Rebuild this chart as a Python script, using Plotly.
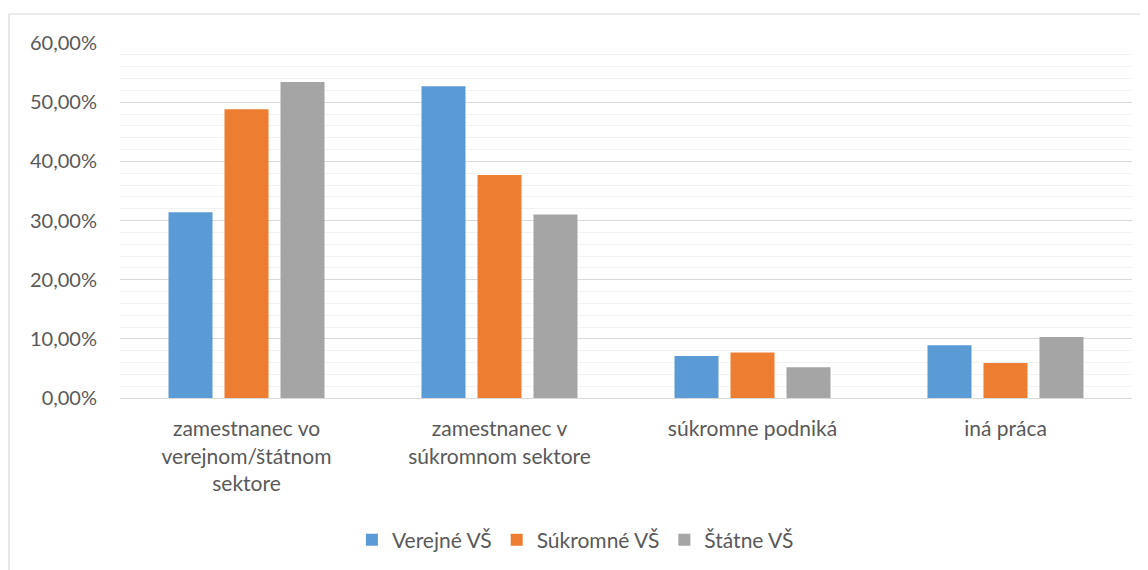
import plotly.graph_objects as go

# kategórie a hodnoty odčítané z grafu
kategorie = ["zamestnanec vo<br>verejnom/štátnom<br>sektore",
             "zamestnanec v<br>súkromnom sektore",
             "súkromne podniká",
             "iná práca"]
verejne = [0.314, 0.527, 0.071, 0.089]
sukromne = [0.488, 0.377, 0.077, 0.059]
statne = [0.534, 0.310, 0.052, 0.103]

serie = [("Verejné VŠ", verejne, "#5B9BD5"),
         ("Súkromné VŠ", sukromne, "#ED7D31"),
         ("Štátne VŠ", statne, "#A5A5A5")]

fig = go.Figure()
for nazov, hodnoty, farba in serie:
    fig.add_trace(go.Bar(x=kategorie, y=hodnoty, name=nazov, marker_color=farba,
                         marker_line_width=0))

# stránka má okraj 8 px, preto je graf o niečo menší
fig.update_layout(
    width=1140, height=562,
    margin=dict(l=112, r=16, t=35, b=172, autoexpand=False),
    plot_bgcolor="white", paper_bgcolor="white",
    separators=", ",
    font=dict(family="Lato", size=20, color="#595959"),
    barmode="group", bargap=0.336, bargroupgap=0.214,
    legend=dict(orientation="h", x=0.45, xanchor="center", y=-0.40, yanchor="middle",
                font=dict(size=21), itemwidth=30, traceorder="normal"),
    showlegend=True,
)
fig.update_yaxes(range=[0, 0.6], dtick=0.1, tickformat=".2%",
                 gridcolor="#D9D9D9", gridwidth=1.2, zeroline=False,
                 ticks="", ticklabelstandoff=22, automargin=False,
                 minor=dict(dtick=0.02, gridcolor="#F2F2F2", gridwidth=1.2, showgrid=True))
fig.update_xaxes(showline=True, linecolor="#D9D9D9", linewidth=1.2,
                 ticks="", ticklabelstandoff=12, automargin=False,
                 tickfont=dict(size=21))

fig.add_shape(type="rect", xref="paper", yref="paper",
              x0=-0.1097, x1=1.0148, y0=-0.5, y1=1.0817,
              line=dict(color="#D9D9D9", width=1.2), fillcolor="rgba(0,0,0,0)")

fig.write_html("out.html")
